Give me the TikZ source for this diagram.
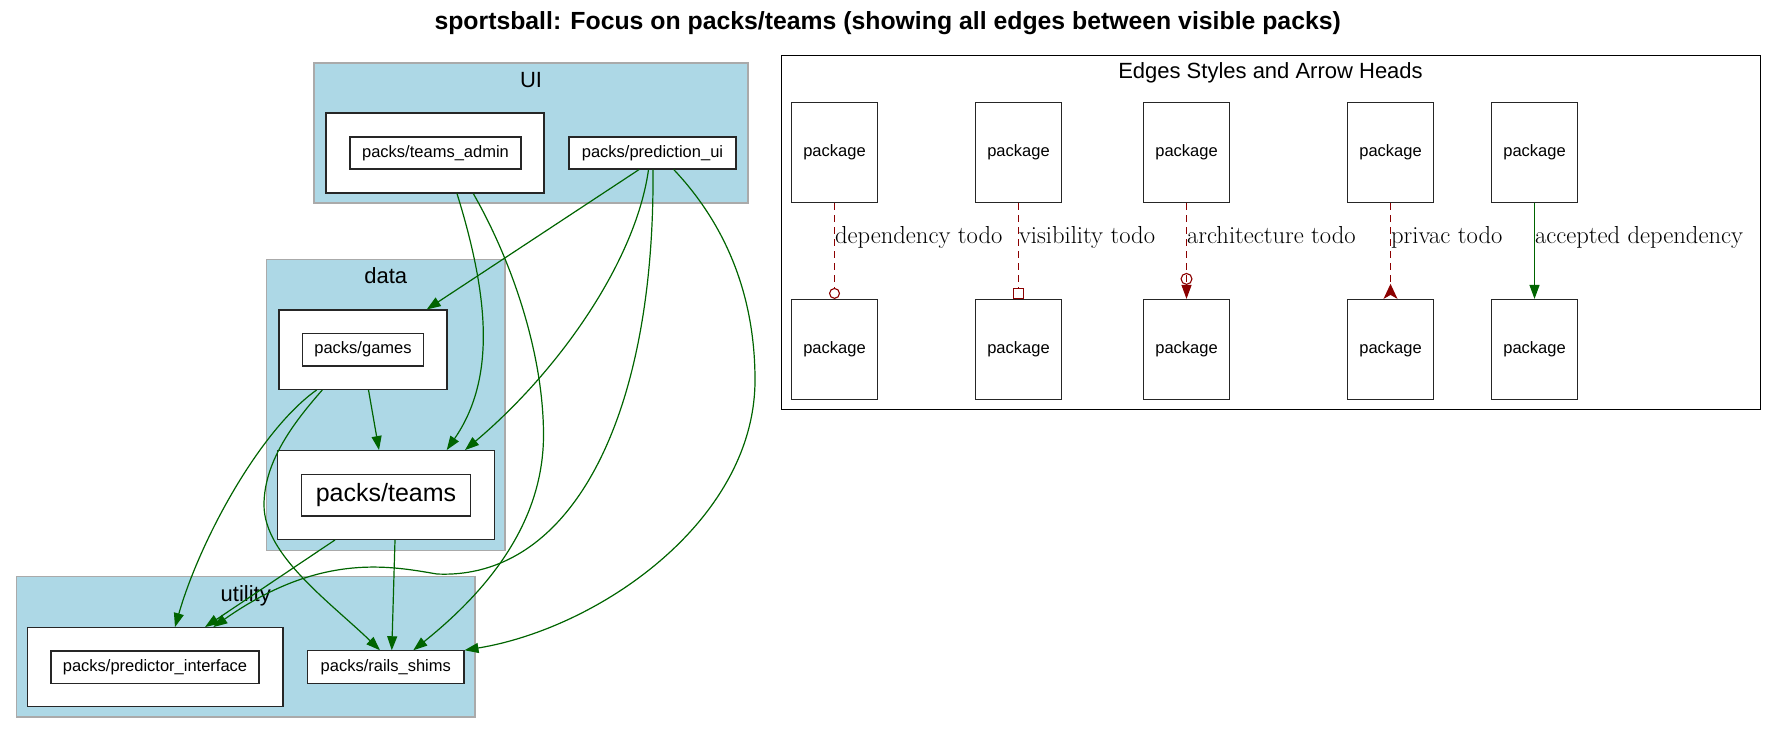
\documentclass[tikz,border=0pt]{standalone}
\usepackage{fontspec}
\usepackage{tikz}
\usetikzlibrary{arrows.meta, positioning}
\usepackage{xcolor}
\newfontfamily\arialfont{Liberation Sans}
\newcommand{\lblfont}{\rmfamily\fontsize{24.6}{29}\selectfont}
\definecolor{clusterblue}{HTML}{ADD8E6}
\definecolor{clusterline}{HTML}{AAAAAA}
\definecolor{depgreen}{HTML}{006400}
\definecolor{tododred}{HTML}{8B0000}

\begin{document}
\begin{tikzpicture}[
    x=1pt, y=-1pt,
    cluster/.style = {rectangle, draw=clusterline, fill=clusterblue, line width=1.2pt, inner sep=0pt},
    clusterlabel/.style = {anchor=base, inner sep=0pt, font=\arialfont\fontsize{22}{26}\selectfont},
    pkgbox/.style = {rectangle, draw=black!85, fill=white, line width=1.2pt, inner sep=0pt, font=\arialfont\fontsize{16.5}{19}\selectfont},
    legendbox/.style = {rectangle, draw=black, fill=white, line width=1pt, inner sep=0pt},
    dep/.style = {draw=depgreen, line width=1.2pt, -{Triangle[length=14pt, width=10pt]}},
    todo/.style = {draw=tododred, line width=1.1pt, dash pattern=on 7pt off 5pt},
    edgelabel/.style = {anchor=base west, inner sep=0pt, pos=0.42, font=\lblfont}
]
\useasboundingbox (0,0) rectangle (1776,734);

% Title
\node (title) [anchor=base, inner sep=0pt, font=\arialfont\bfseries\fontsize{24.8}{29}\selectfont] at (887.7,29.8) {sportsball: Focus on packs/teams (showing all edges between visible packs)};

% Clusters
\node (ui) [cluster, minimum width=434pt, minimum height=140pt] at (531,133) {};
\node [clusterlabel] at ([yshift=-25.3pt]ui.north) {UI};
\node (data) [cluster, minimum width=238.4pt, minimum height=291.4pt] at (385.8,405) {};
\node [clusterlabel] at ([yshift=-25pt]data.north) {data};
\node (utility) [cluster, minimum width=458.5pt, minimum height=140.3pt] at (245.8,646.8) {};
\node [clusterlabel] at ([yshift=-25pt]utility.north) {utility};

% Nodes
\node (adminbox) [pkgbox, minimum width=218pt, minimum height=80pt] at (435,153) {};
\node (admin) [pkgbox, minimum width=171pt, minimum height=32pt] at (435.5,153) {packs/teams\_admin};
\node (predui) [pkgbox, minimum width=167pt, minimum height=32pt] at (652.5,153) {packs/prediction\_ui};
\node (gamesbox) [pkgbox, minimum width=168pt, minimum height=79.3pt] at (363,349.7) {};
\node (games) [pkgbox, minimum width=121pt, minimum height=32.7pt] at (363,349.7) {packs/games};
\node (teamsbox) [pkgbox, minimum width=216.7pt, minimum height=88.7pt] at (386,495) {};
\node (teams) [pkgbox, minimum width=169.3pt, minimum height=41.7pt, font=\arialfont\fontsize{25}{30}\selectfont] at (386,495.2) {packs/teams};
\node (predifbox) [pkgbox, minimum width=255.4pt, minimum height=79pt] at (155.3,667.2) {};
\node (predif) [pkgbox, minimum width=208pt, minimum height=32.3pt] at (155,667.2) {packs/predictor\_interface};
\node (shims) [pkgbox, minimum width=156.2pt, minimum height=32.3pt] at (385.8,667) {packs/rails\_shims};

% Connections
\draw [dep] ([xshift=-13.5pt]predui.south) -- ([xshift=63.7pt]gamesbox.north);
\draw [dep] ([xshift=5.5pt]gamesbox.south) -- ([xshift=-7pt]teamsbox.north);
\draw [dep] ([xshift=22pt]adminbox.south) .. controls (490,300) and (495,380) .. ([xshift=60.7pt]teamsbox.north);
\draw [dep] ([xshift=38.3pt]adminbox.south) .. controls (513,263) and (543.5,355) .. (543.5,435)
    .. controls (543.5,520) and (491,588) .. ([xshift=27.5pt]shims.north);
\draw [dep] ([xshift=-4pt]predui.south) .. controls (636,260) and (560,370) .. ([xshift=79pt]teamsbox.north);
\draw [dep] ([xshift=0.5pt]predui.south) .. controls (655,420) and (570,580) .. (437,574)
    .. controls (390,566) and (320,552) .. ([xshift=58pt]predifbox.north);
\draw [dep] ([xshift=21.3pt]predui.south) .. controls (714.6,212.8) and (755,280) .. (755,380)
    .. controls (755,520) and (600,628) .. (shims.north east);
\draw [dep] ([xshift=-46.3pt]gamesbox.south) .. controls (260,430) and (200,540) .. ([xshift=19.7pt]predifbox.north);
\draw [dep] ([xshift=-40.7pt]gamesbox.south) .. controls (296,420) and (264,460) .. (264,505)
    .. controls (264,555) and (329.6,601.7) .. ([xshift=-5.8pt]shims.north);
\draw [dep] ([xshift=-51pt]teamsbox.south) -- ([xshift=49.7pt]predifbox.north);
\draw [dep] ([xshift=9pt]teamsbox.south) -- ([xshift=6pt]shims.north);

% Legend
\node (legend) [legendbox, minimum width=979pt, minimum height=354pt] at (1270.5,232) {};
\node [clusterlabel] at ([yshift=-24.3pt]legend.north) {Edges Styles and Arrow Heads};
\foreach \i/\x in {1/834.5, 2/1018.5, 3/1186.5, 4/1390.5, 5/1534.5} {
    \node (top\i) [pkgbox, minimum width=86pt, minimum height=100pt] at (\x,152.5) {package};
    \node (bot\i) [pkgbox, minimum width=86pt, minimum height=100pt] at (\x,349.5) {package};
}
\draw [todo, -{Circle[open, length=11pt, width=11pt]}] (top1) -- node[edgelabel]{dependency todo} (bot1);
\draw [todo, -{Square[open, length=11pt, width=11pt]}] (top2) -- node[edgelabel]{visibility todo} (bot2);
\draw [todo, -{Circle[open, length=12pt, width=12pt] Triangle[length=14pt, width=10pt]}] (top3) -- node[edgelabel]{architecture todo} (bot3);
\draw [todo, -{Stealth[reversed, length=15pt, width=14pt, inset=4pt]}] (top4) -- node[edgelabel]{privac todo} (bot4);
\draw [dep] (top5) -- node[edgelabel]{accepted dependency} (bot5);

\end{tikzpicture}
\end{document}
